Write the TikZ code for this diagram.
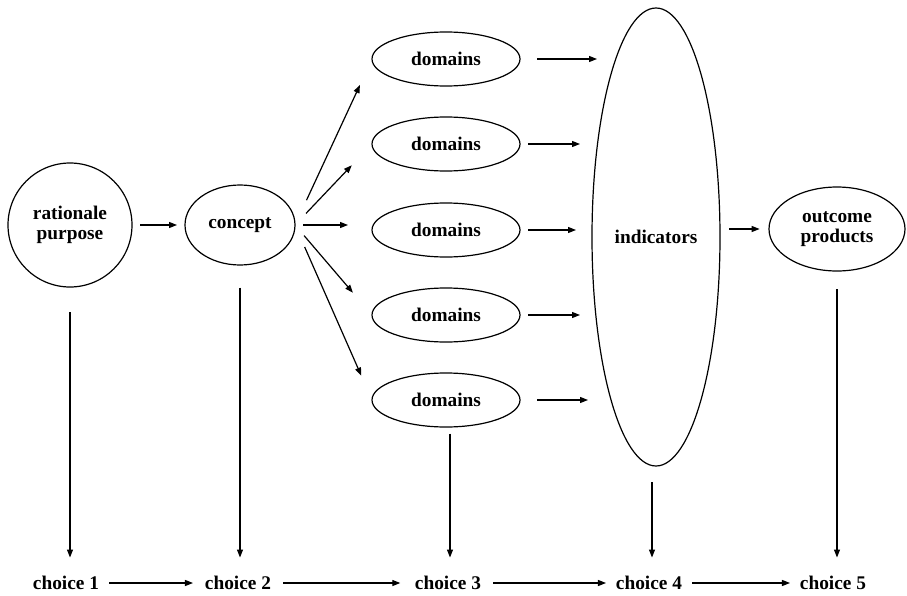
\documentclass[tikz,border=0pt]{standalone}
\usepackage{fontspec}
\setmainfont{Liberation Serif}
\usetikzlibrary{arrows.meta,shapes.geometric}

\begin{document}
\begin{tikzpicture}[x=0.75pt,y=0.75pt,yscale=-1,xscale=1,
  txt/.style={inner sep=0pt,outer sep=0pt,align=center,font=\bfseries\fontsize{14.5}{15}\selectfont},
  oval/.style={txt,draw,ellipse,line width=0.9pt},
  round/.style={txt,draw,circle,line width=0.9pt},
  arr/.style={line width=0.9pt,-{Triangle[length=6pt,width=4.5pt]}}]
\useasboundingbox (0,0) rectangle (907,596);

% upper row
\node[round,minimum size=93pt] (rat) at (70,225) {rationale\\purpose};
\node[oval,minimum width=82.5pt,minimum height=60pt] (con) at (240,225) {concept};
\node[oval,minimum width=111pt,minimum height=40.5pt] (d1) at (446,59) {domains};
\node[oval,minimum width=111pt,minimum height=40.5pt] (d2) at (446,144) {domains};
\node[oval,minimum width=111pt,minimum height=40.5pt] (d3) at (446,230) {domains};
\node[oval,minimum width=111pt,minimum height=40.5pt] (d4) at (446,315) {domains};
\node[oval,minimum width=111pt,minimum height=40.5pt] (d5) at (446,400) {domains};
\node[oval,minimum width=96pt,minimum height=343.5pt] (ind) at (656,237) {indicators};
\node[oval,minimum width=102pt,minimum height=63pt] (out) at (837,229) {outcome\\products};

% choices
\node[txt] (ch1) at (66,583) {choice 1};
\node[txt] (ch2) at (238,583) {choice 2};
\node[txt] (ch3) at (448,583) {choice 3};
\node[txt] (ch4) at (649,583) {choice 4};
\node[txt] (ch5) at (833,583) {choice 5};

\draw[arr,shorten <=6pt,shorten >=6pt] (rat) -- (con);
\draw[arr,shorten <=20.5pt,shorten >=21.5pt] (con.east) -- (d1.west);
\draw[arr,shorten <=12pt,shorten >=22pt] (con.east) -- (d2.west);
\draw[arr,shorten <=6pt,shorten >=18pt] (con.east) -- (con.east -| d3.west);
\draw[arr,shorten <=10.5pt,shorten >=22pt] (con.east) -- (d4.west);
\draw[arr,shorten <=18pt,shorten >=20pt] (con.east) -- (d5.west);

\draw[arr,shorten <=12.75pt] (d1.east) -- ([xshift=3.75pt]d1.east -| ind.west);
\draw[arr,shorten <=6pt] (d2.east) -- ([xshift=-9pt]d2.east -| ind.west);
\draw[arr,shorten <=6pt] (d3.east) -- ([xshift=-12pt]d3.east -| ind.west);
\draw[arr,shorten <=6pt] (d4.east) -- ([xshift=-9pt]d4.east -| ind.west);
\draw[arr,shorten <=12.75pt] (d5.east) -- ([xshift=-3pt]d5.east -| ind.west);
\draw[arr,shorten <=7pt,shorten >=7pt] (ind.east |- out.west) -- (out.west);

% down to the choices
\draw[arr,shorten <=18.75pt,shorten >=14pt] (rat.south) -- (rat.south |- ch1.north);
\draw[arr,shorten <=17pt,shorten >=14pt] (con.south) -- (con.south |- ch2.north);
\draw[arr,shorten <=5pt,shorten >=14pt] ([xshift=3pt]d5.south) -- ([xshift=3pt]d5.south |- ch3.north);
\draw[arr,shorten <=12pt,shorten >=14pt] ([xshift=-3pt]ind.south) -- ([xshift=-3pt]ind.south |- ch4.north);
\draw[arr,shorten <=13.5pt,shorten >=14pt] (out.south) -- (out.south |- ch5.north);

\draw[arr,shorten <=7.5pt,shorten >=9pt] (ch1) -- (ch2);
\draw[arr,shorten <=9pt,shorten >=11pt] (ch2) -- (ch3);
\draw[arr,shorten <=9pt,shorten >=7.5pt] (ch3) -- (ch4);
\draw[arr,shorten <=7.5pt,shorten >=7.5pt] (ch4) -- (ch5);
\end{tikzpicture}
\end{document}
